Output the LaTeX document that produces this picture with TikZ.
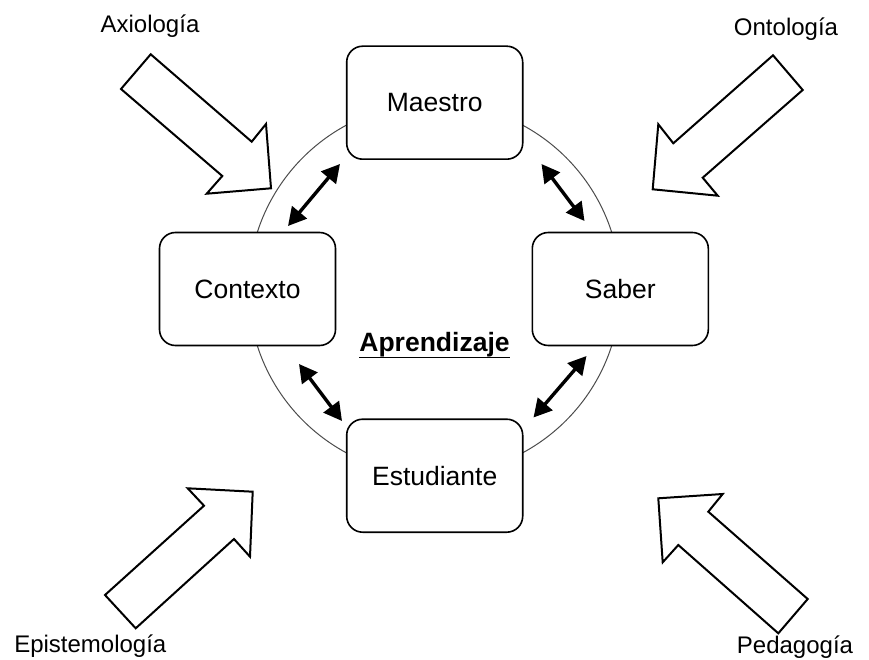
\documentclass[tikz,border=0pt]{standalone}
\usepackage{fontspec}
\setmainfont{Liberation Sans}
\usetikzlibrary{arrows.meta,calc}
\begin{document}
\begin{tikzpicture}[x=1pt,y=-1pt,
  box/.style={draw=black, line width=1.6pt, rounded corners=16pt, fill=white,
    minimum width=176pt, minimum height=113pt, inner sep=0pt,
    font=\fontsize{26.5}{30}\selectfont},
  lbl/.style={font=\fontsize{24}{28}\selectfont, anchor=base, inner sep=0pt},
  dbl/.style={line width=3.4pt,
    {Triangle[length=18pt,width=19pt]}-{Triangle[length=18pt,width=19pt]}},
  blockarrow/.style={draw=black, line width=2pt, fill=white, line join=miter},
  ring/.style={draw=black!70, line width=1pt}]
\useasboundingbox (0,0) rectangle (869,660);
\fill[white] (0,0) rectangle (869,660);

% ring
\draw[ring] (434.5,289) circle[radius=186];

% boxes
\node[box] (maestro) at (434.7,102.7) {Maestro};
\node[box] (contexto) at (247.5,289) {Contexto};
\node[box] (saber) at (620.3,289) {Saber};
\node[box] (estudiante) at (434.7,475.7) {Estudiante};

% centre label
\node[font=\bfseries\fontsize{26.5}{30}\selectfont, anchor=base, inner sep=0pt]
  (apr) at (434.5,351.7) {Aprendizaje};
\draw[line width=1.2pt] ($(apr.base west)+(0,5.5)$) -- ($(apr.base east)+(0,5.5)$);

% double arrows
\coordinate (mc1) at (340,164);  \coordinate (mc2) at (288,226);
\coordinate (ms1) at (541.5,164); \coordinate (ms2) at (584.5,221);
\coordinate (ce1) at (299,364); \coordinate (ce2) at (342,421);
\coordinate (se1) at (586.5,356); \coordinate (se2) at (533.5,417.5);
\draw[dbl] (mc1) -- (mc2);
\draw[dbl] (ms1) -- (ms2);
\draw[dbl] (ce1) -- (ce2);
\draw[dbl] (se1) -- (se2);

% block arrows
\draw[blockarrow] (150.7,54.3) -- (121,89) -- (222.3,176) -- (206.7,193.7)
  -- (271,188.3) -- (266,124) -- (251.7,141.7) -- cycle;
\draw[blockarrow] (773,55.3) -- (802.7,90) -- (702.7,177.7) -- (717.7,195.7)
  -- (652.7,189.3) -- (658.3,124.3) -- (673.3,143.3) -- cycle;
\draw[blockarrow] (105,595) -- (135.7,628.3) -- (234,539) -- (250,556.7)
  -- (252.7,491.7) -- (187.7,488.3) -- (204,505.7) -- cycle;
\draw[blockarrow] (807.7,599) -- (778.3,633.3) -- (678.3,545) -- (662.7,562.3)
  -- (658.3,498.3) -- (722.7,494) -- (708.3,511.7) -- cycle;

% labels
\node[lbl] (axio) at (150,33) {Axiología};
\node[lbl] (onto) at (786,36) {Ontología};
\node[lbl] (epis) at (90.3,652.3) {Epistemología};
\node[lbl] (peda) at (795,653.5) {Pedagogía};
\end{tikzpicture}
\end{document}
